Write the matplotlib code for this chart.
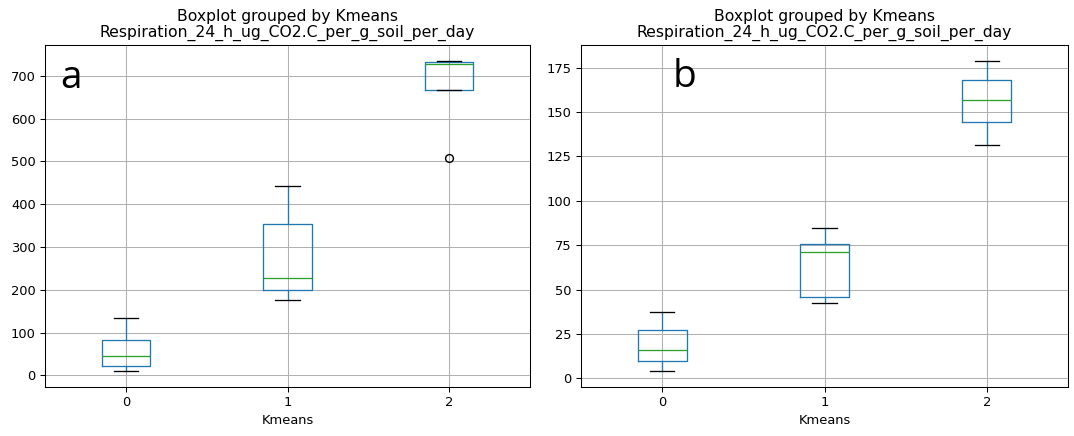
import matplotlib
matplotlib.use("Agg")
import matplotlib.pyplot as plt

# Cluster labels shown on the x axis
clusters = ["0", "1", "2"]
group_by = "Kmeans"
column = "Respiration_24_h_ug_CO2.C_per_g_soil_per_day"

# Panel a: five-number summaries per cluster (whisker low, Q1, median, Q3, whisker high)
a_whislo = [9, 176, 668]
a_q1 = [22, 200, 668]
a_med = [44, 227, 729]
a_q3 = [82, 354, 732]
a_whishi = [134, 443, 736]
a_fliers = [[], [], [509]]

# Panel b: five-number summaries per cluster
b_whislo = [3.8, 42.4, 131.4]
b_q1 = [9.8, 45.8, 144.2]
b_med = [16.0, 70.9, 156.7]
b_q3 = [27.2, 75.4, 168.0]
b_whishi = [37.5, 84.7, 179.1]
b_fliers = [[], [], []]

panel_letters = ["a", "b"]

S = 0.94  # overall text/line scale
plt.rcParams.update({
    "xtick.major.size": 3.5 * S,
    "ytick.major.size": 3.5 * S,
    "xtick.major.width": 0.8 * S,
    "ytick.major.width": 0.8 * S,
    "axes.linewidth": 0.8 * S,
    "grid.linewidth": 0.8 * S,
    "lines.linewidth": 1.5 * S,
})


def make_stats(whislo, q1, med, q3, whishi, fliers):
    return [
        dict(whislo=lo, q1=a, med=m, q3=b, whishi=hi, fliers=f, label=lab)
        for lo, a, m, b, hi, f, lab in zip(whislo, q1, med, q3, whishi, fliers, clusters)
    ]


fig = plt.figure(figsize=(10.74, 4.36), dpi=100)
W, H = 1074, 436

# axes boxes in pixels: left, right, top, bottom
boxes = [(45, 530, 45, 387), (581, 1068, 45, 387)]
stats_all = [
    make_stats(a_whislo, a_q1, a_med, a_q3, a_whishi, a_fliers),
    make_stats(b_whislo, b_q1, b_med, b_q3, b_whishi, b_fliers),
]
letter_pos = [(71, 88), (685, 87)]

for (l, r, t, b), stats, letter, (lx, ly) in zip(boxes, stats_all, panel_letters, letter_pos):
    ax = fig.add_axes([l / W, 1 - b / H, (r - l) / W, (b - t) / H])
    ax.bxp(
        stats,
        positions=[1, 2, 3],
        widths=0.3,
        boxprops=dict(color="C0", linewidth=1.0 * S),
        whiskerprops=dict(color="C0", linewidth=1.0 * S),
        medianprops=dict(color="C2", linewidth=1.0 * S),
        capprops=dict(color="k", linewidth=1.0 * S),
        flierprops=dict(marker="o", markerfacecolor="none", markeredgecolor="k",
                        markersize=6 * S),
    )
    ax.set_xlim(0.5, 3.5)
    ax.margins(y=0.05)
    ax.grid(True)
    ax.set_xticks([1, 2, 3])
    ax.set_xticklabels(clusters)
    ax.set_xlabel(group_by, fontsize=10 * S, labelpad=4 * S)
    ax.tick_params(labelsize=10 * S, pad=3.5 * S)
    ax.set_title(column, fontsize=12 * S, pad=6 * S)
    fig.text((l + r) / 2 / W, 1 - 9 / H, "Boxplot grouped by " + group_by,
             ha="center", va="top", fontsize=12 * S)
    fig.text(lx / W, 1 - ly / H, letter, ha="center", va="baseline",
             fontsize=28, family="Open Sans")

fig.savefig("out.png", dpi=100)
